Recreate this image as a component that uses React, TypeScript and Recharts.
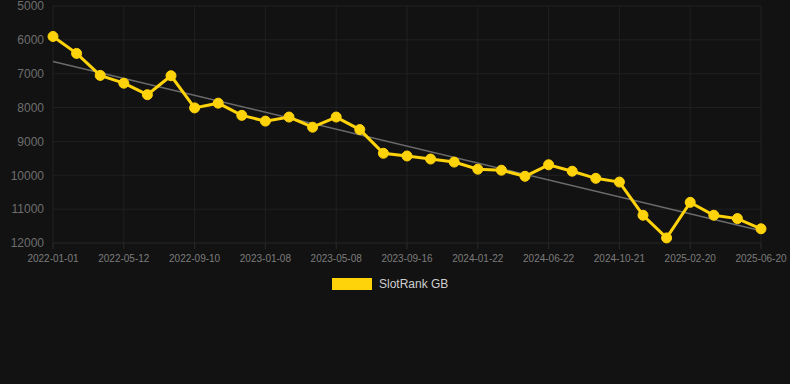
import { LineChart, Line, XAxis, YAxis, CartesianGrid } from 'recharts';

// category labels (one per sample, every third one shown on the axis)
const dates = [
  '2022-01-01', '2022-02-14', '2022-03-28', '2022-05-12', '2022-06-21', '2022-07-31',
  '2022-09-10', '2022-10-20', '2022-11-29', '2023-01-08', '2023-02-17', '2023-03-29',
  '2023-05-08', '2023-06-21', '2023-08-03', '2023-09-16', '2023-10-29', '2023-12-10',
  '2024-01-22', '2024-03-11', '2024-05-02', '2024-06-22', '2024-08-01', '2024-09-10',
  '2024-10-21', '2024-12-01', '2025-01-10', '2025-02-20', '2025-04-01', '2025-05-11',
  '2025-06-20',
];

const rank = [
  5900, 6400, 7050, 7280, 7620, 7060, 8010, 7870, 8230, 8400, 8280, 8580,
  8280, 8650, 9350, 9430, 9520, 9610, 9820, 9850, 10030, 9690, 9880, 10090,
  10200, 11180, 11850, 10800, 11180, 11280, 11580,
];

// trend line end values
const trendStart = 6640;
const trendEnd = 11640;

const yTicks = [5000, 6000, 7000, 8000, 9000, 10000, 11000, 12000];

const data = dates.map((d, i) => ({
  date: d,
  rank: rank[i],
  trend: i === 0 ? trendStart : i === dates.length - 1 ? trendEnd : null,
}));

const font = 'Arial, "Liberation Sans", sans-serif';

export default function App() {
  return (
    <div style={{ position: 'absolute', left: 0, top: 0, width: 790, height: 384, background: '#121212', fontFamily: font }}>
      <LineChart width={790} height={384} data={data} margin={{ top: 6, right: 29, left: 8, bottom: 111 }}>
        <CartesianGrid stroke="#202020" strokeWidth={1} />
        <XAxis
          dataKey="date"
          interval={2}
          tick={{ fill: '#7c7c7c', fontSize: 10, fontFamily: font }}
          axisLine={{ stroke: '#202020' }}
          tickLine={{ stroke: '#2a2a2a' }}
          tickMargin={6}
          height={30}
        />
        <YAxis
          reversed
          domain={[5000, 12000]}
          ticks={yTicks}
          interval={0}
          width={45}
          tick={{ fill: '#6e6e6e', fontSize: 12, fontFamily: font }}
          axisLine={false}
          tickLine={false}
          tickMargin={3}
        />
        <Line
          dataKey="trend"
          connectNulls
          stroke="#6b6b6b"
          strokeWidth={1.5}
          dot={false}
          isAnimationActive={false}
        />
        <Line
          dataKey="rank"
          stroke="#FFD30A"
          strokeWidth={3}
          dot={{ r: 5, fill: '#FFD30A', stroke: '#FFD30A', strokeWidth: 1 }}
          isAnimationActive={false}
        />
      </LineChart>
      <div style={{ position: 'absolute', top: 278, left: 332, display: 'flex', alignItems: 'center' }}>
        <div style={{ width: 40, height: 12, background: '#FFD30A' }} />
        <span style={{ marginLeft: 7, fontSize: 12, color: '#cfcfcf', lineHeight: '12px' }}>SlotRank GB</span>
      </div>
    </div>
  );
}
